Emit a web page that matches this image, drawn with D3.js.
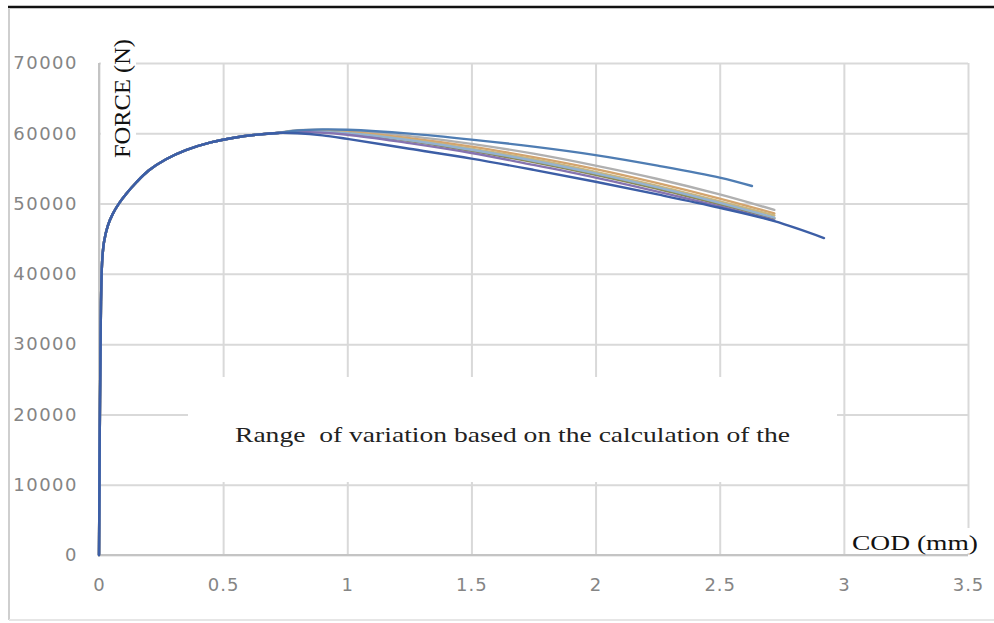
<!doctype html>
<html>
<head>
<script src="https://d3js.org/d3.v7.min.js"></script>
<style>
  body { margin: 0; background: #fff; }
  svg { display: block; }
</style>
</head>
<body>
<script>
// rising part shared by all specimens
var rise = [[0,0],[0.004,22000],[0.008,36000],[0.013,42000],[0.02,44500],[0.035,46800],
            [0.055,48500],[0.08,50000],[0.11,51400],[0.15,53000],[0.2,54700],[0.27,56300],
            [0.35,57600],[0.45,58700],[0.55,59400],[0.65,59850],[0.72,60050]];

// softening part of each curve (COD mm, force N)
var specA = [[0.8,60400],[0.9,60550],[1.0,60500],[1.25,59950],[1.5,59100],[1.75,58100],[2.0,56900],[2.25,55400],[2.5,53700],[2.63,52500]];
var specB = [[0.8,60000],[0.9,59700],[1.0,59200],[1.25,57800],[1.5,56400],[1.75,54800],[2.0,53100],[2.25,51300],[2.5,49400],[2.72,47500],[2.92,45100]];
var specC = [[0.8,60450],[1.0,60400],[1.25,59600],[1.5,58500],[1.75,57100],[2.0,55400],[2.25,53500],[2.5,51300],[2.72,49100]];
var specD = [[0.8,60350],[1.0,60200],[1.25,59300],[1.5,58100],[1.75,56600],[2.0,54900],[2.25,52900],[2.5,50700],[2.72,48600]];
var specE = [[0.8,60300],[1.0,60100],[1.25,59100],[1.5,57800],[1.75,56300],[2.0,54500],[2.25,52500],[2.5,50300],[2.72,48300]];
var specF = [[0.8,60250],[1.0,59950],[1.25,58900],[1.5,57500],[1.75,55900],[2.0,54100],[2.25,52100],[2.5,49900],[2.72,47900]];
var specG = [[0.8,60200],[1.0,59800],[1.25,58600],[1.5,57200],[1.75,55500],[2.0,53700],[2.25,51700],[2.5,49600],[2.72,47600]];
var specH = [[0.8,60300],[1.0,60000],[1.25,59000],[1.5,57650],[1.75,56100],[2.0,54300],[2.25,52300],[2.5,50100],[2.72,48000]];

var xTicks = [0, 0.5, 1, 1.5, 2, 2.5, 3, 3.5];
var yTicks = [0, 10000, 20000, 30000, 40000, 50000, 60000, 70000];

// bundle drawn first, the two outer curves on top
var series = [
  {data: specC, color: "#b0b0b0"},
  {data: specD, color: "#d3a46e"},
  {data: specE, color: "#c9b57e"},
  {data: specF, color: "#8a8954"},
  {data: specH, color: "#93b2d0"},
  {data: specG, color: "#8573b0"},
  {data: specA, color: "#4f7db3"},
  {data: specB, color: "#3c5ea6"}
];

var width = 994, height = 623;

var x = d3.scaleLinear().domain([0, 3.5]).range([99, 968]);
var y = d3.scaleLinear().domain([0, 70000]).range([555, 63]);

var svg = d3.select("body").append("svg")
    .attr("width", width)
    .attr("height", height);

// outer frame
svg.append("line").attr("x1", 8).attr("x2", 994).attr("y1", 7).attr("y2", 7)
    .attr("stroke", "#111").attr("stroke-width", 2.5);
svg.append("line").attr("x1", 9).attr("x2", 9).attr("y1", 8).attr("y2", 620)
    .attr("stroke", "#cfcfcf").attr("stroke-width", 2);
svg.append("line").attr("x1", 9).attr("x2", 994).attr("y1", 620).attr("y2", 620)
    .attr("stroke", "#e6e6e6").attr("stroke-width", 2);

// grid
svg.append("g")
    .attr("transform", "translate(99,0)")
    .call(d3.axisLeft(y).tickValues(yTicks).tickSize(-(968 - 99)).tickFormat(""))
    .call(function(g) {
      g.select(".domain").remove();
      g.selectAll("line").attr("stroke", "#d9d9d9").attr("stroke-width", 2);
    });
svg.append("g")
    .attr("transform", "translate(0,555)")
    .call(d3.axisBottom(x).tickValues(xTicks).tickSize(-(555 - 63)).tickFormat(""))
    .call(function(g) {
      g.select(".domain").remove();
      g.selectAll("line").attr("stroke", "#d9d9d9").attr("stroke-width", 2);
    });

// axis lines
svg.append("line").attr("x1", x(0)).attr("x2", x(0)).attr("y1", y(70000)).attr("y2", y(0))
    .attr("stroke", "#c4c4c4").attr("stroke-width", 2);
svg.append("line").attr("x1", x(0)).attr("x2", x(3.5)).attr("y1", y(0)).attr("y2", y(0))
    .attr("stroke", "#c4c4c4").attr("stroke-width", 2);

// tick labels
svg.append("g")
    .attr("transform", "translate(78,0)")
    .call(d3.axisLeft(y).tickValues(yTicks).tickSize(0).tickPadding(0).tickFormat(d3.format("d")))
    .call(function(g) {
      g.select(".domain").remove();
      g.selectAll("text")
        .attr("font-family", "DejaVu Sans, sans-serif")
        .attr("font-size", 18)
        .attr("letter-spacing", 1.5)
        .attr("fill", "#858585");
    });
svg.append("g")
    .attr("transform", "translate(0,578)")
    .call(d3.axisBottom(x).tickValues(xTicks).tickSize(0).tickPadding(0).tickFormat(d3.format("")))
    .call(function(g) {
      g.select(".domain").remove();
      g.selectAll("text")
        .attr("font-family", "DejaVu Sans, sans-serif")
        .attr("font-size", 18)
        .attr("letter-spacing", 1)
        .attr("fill", "#858585");
    });

// annotation box hides the grid behind it
svg.append("rect")
    .attr("x", 188).attr("y", 377).attr("width", 649).attr("height", 105)
    .attr("fill", "#fff");

// axis title backgrounds
svg.append("rect").attr("x", 101).attr("y", 33).attr("width", 35).attr("height", 128).attr("fill", "#fff");
svg.append("rect").attr("x", 848).attr("y", 528).attr("width", 134).attr("height", 25).attr("fill", "#fff");

// curves
var line = d3.line()
    .x(function(d) { return x(d[0]); })
    .y(function(d) { return y(d[1]); })
    .curve(d3.curveCatmullRom.alpha(0.5));

series.forEach(function(s) {
  svg.append("path")
      .datum(rise.concat(s.data))
      .attr("fill", "none")
      .attr("stroke", s.color)
      .attr("stroke-width", 2.4)
      .attr("stroke-linecap", "round")
      .attr("d", line);
});

// titles
svg.append("text")
    .attr("transform", "translate(130,158) rotate(-90)")
    .attr("font-family", "Liberation Serif, Times New Roman, serif")
    .attr("font-size", 24)
    .attr("textLength", 119)
    .attr("lengthAdjust", "spacingAndGlyphs")
    .attr("fill", "#111")
    .text("FORCE (N)");

svg.append("text")
    .attr("x", 852)
    .attr("y", 550)
    .attr("font-family", "Liberation Serif, Times New Roman, serif")
    .attr("font-size", 22)
    .attr("textLength", 126)
    .attr("lengthAdjust", "spacingAndGlyphs")
    .attr("fill", "#111")
    .text("COD (mm)");

svg.append("text")
    .attr("x", 235)
    .attr("y", 442)
    .attr("font-family", "Liberation Serif, Times New Roman, serif")
    .attr("font-size", 22)
    .attr("textLength", 555)
    .attr("lengthAdjust", "spacingAndGlyphs")
    .attr("fill", "#222")
    .style("white-space", "pre")
    .text("Range  of variation based on the calculation of the");
</script>
</body>
</html>
